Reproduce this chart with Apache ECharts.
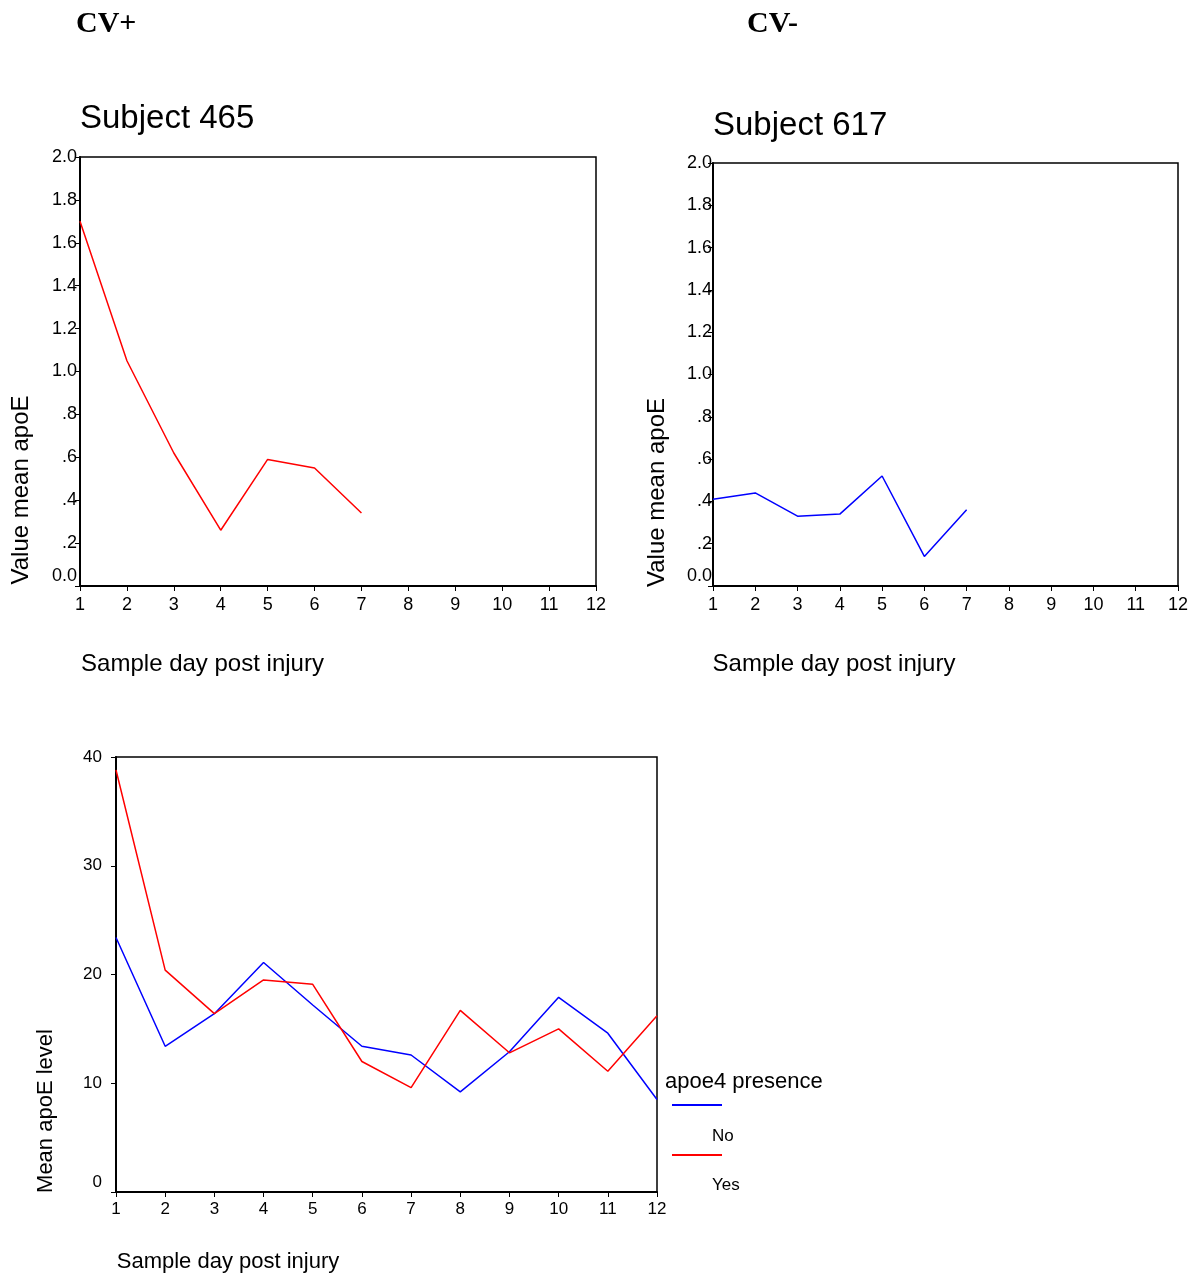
<!DOCTYPE html>
<html>
<head>
<meta charset="utf-8">
<title>apoE by sample day</title>
<script src="https://cdn.jsdelivr.net/npm/echarts@6/dist/echarts.min.js"></script>
<style>
  html, body { margin: 0; padding: 0; background: #fff; }
  #chart { width: 1197px; height: 1277px; }
</style>
</head>
<body>
<div id="chart"></div>
<script>
// sample days 1..12
const days = ['1', '2', '3', '4', '5', '6', '7', '8', '9', '10', '11', '12'];

// Subject 465 (CV+), days 1-7
const subject465 = [1.70, 1.05, 0.62, 0.26, 0.59, 0.55, 0.34];
// Subject 617 (CV-), days 1-7
const subject617 = [0.41, 0.44, 0.33, 0.34, 0.52, 0.14, 0.36];

// mean apoE level by apoe4 presence
const apoe4No = [23.4, 13.4, 16.4, 21.1, 17.2, 13.4, 12.6, 9.2, 12.9, 17.9, 14.6, 8.5];
const apoe4Yes = [38.8, 20.4, 16.4, 19.5, 19.1, 12.0, 9.6, 16.7, 12.8, 15.0, 11.1, 16.2];

const FONT = 'Arial, "Liberation Sans", sans-serif';
const SERIF = '"Liberation Serif", "Times New Roman", serif';
const chart = echarts.init(document.getElementById('chart'));

// SPSS style labels: "1.0", ".8", ..., "0.0" (zero nudged up off the x axis)
function smallFmt(v) {
  if (v === 0) return '{z|0.0}';
  const s = v.toFixed(1);
  return v < 1 ? s.replace(/^0/, '') : s;
}
function bigFmt(v) {
  return v === 0 ? '{z|0}' : String(v);
}

function xAxisFor(gridIndex, opts) {
  return {
    type: 'category',
    gridIndex: gridIndex,
    data: days,
    boundaryGap: false,
    name: 'Sample day post injury',
    nameLocation: 'middle',
    nameGap: opts.nameGap,
    nameTextStyle: { color: '#000', fontFamily: FONT, fontSize: opts.nameSize, padding: [0, opts.namePad, 0, 0] },
    axisLine: { lineStyle: { color: '#000', width: 2 } },
    axisTick: { show: true, length: 5, alignWithLabel: true, lineStyle: { color: '#000' } },
    axisLabel: { color: '#000', fontFamily: FONT, fontSize: opts.labelSize, margin: opts.labelMargin, interval: 0 },
    splitLine: { show: false }
  };
}

function yAxisFor(gridIndex, opts) {
  return {
    type: 'value',
    gridIndex: gridIndex,
    min: 0,
    max: opts.max,
    interval: opts.interval,
    name: opts.name,
    nameLocation: 'middle',
    nameGap: opts.nameGap,
    nameTextStyle: { color: '#000', fontFamily: FONT, fontSize: opts.nameSize, padding: [0, opts.namePad, 0, 0] },
    axisLine: { show: true, lineStyle: { color: '#000', width: 2 } },
    axisTick: { show: true, length: 5, lineStyle: { color: '#000' } },
    axisLabel: {
      color: '#000', fontFamily: FONT, fontSize: opts.labelSize, margin: opts.labelMargin,
      formatter: opts.formatter,
      rich: { z: { color: '#000', fontFamily: FONT, fontSize: opts.labelSize, padding: [0, 0, 20, 0] } }
    },
    splitLine: { show: false }
  };
}

const option = {
  backgroundColor: '#fff',
  animation: false,
  title: [
    { text: 'CV+', left: 76, top: 9, padding: 0, textStyle: { fontFamily: SERIF, fontWeight: 'bold', fontSize: 30, color: '#000' } },
    { text: 'CV-', left: 747, top: 9, padding: 0, textStyle: { fontFamily: SERIF, fontWeight: 'bold', fontSize: 30, color: '#000' } },
    { text: 'Subject 465', left: 80, top: 102, padding: 0, textStyle: { fontFamily: FONT, fontWeight: 'normal', fontSize: 33, color: '#000' } },
    { text: 'Subject 617', left: 713, top: 109, padding: 0, textStyle: { fontFamily: FONT, fontWeight: 'normal', fontSize: 33, color: '#000' } },
    { text: 'apoe4 presence', left: 665, top: 1071, padding: 0, textStyle: { fontFamily: FONT, fontWeight: 'normal', fontSize: 22, color: '#000' } }
  ],
  grid: [
    { left: 80, top: 157, width: 516, height: 429, show: true, borderColor: '#000', borderWidth: 1.5, backgroundColor: 'transparent' },
    { left: 713, top: 163, width: 465, height: 423, show: true, borderColor: '#000', borderWidth: 1.5, backgroundColor: 'transparent' },
    { left: 116, top: 757, width: 541, height: 435, show: true, borderColor: '#000', borderWidth: 1.5, backgroundColor: 'transparent' }
  ],
  xAxis: [
    xAxisFor(0, { nameGap: 66, namePad: 271, nameSize: 24, labelSize: 18, labelMargin: 10 }),
    xAxisFor(1, { nameGap: 66, namePad: 223, nameSize: 24, labelSize: 18, labelMargin: 10 }),
    xAxisFor(2, { nameGap: 59, namePad: 317, nameSize: 22, labelSize: 17, labelMargin: 9 })
  ],
  yAxis: [
    yAxisFor(0, { max: 2, interval: 0.2, name: 'Value mean apoE', nameGap: 47, namePad: 237, nameSize: 24, labelSize: 18, labelMargin: 3, formatter: smallFmt }),
    yAxisFor(1, { max: 2, interval: 0.2, name: 'Value mean apoE', nameGap: 44, namePad: 236, nameSize: 24, labelSize: 18, labelMargin: 1, formatter: smallFmt }),
    yAxisFor(2, { max: 40, interval: 10, name: 'Mean apoE level', nameGap: 59, namePad: 273, nameSize: 22, labelSize: 17, labelMargin: 14, formatter: bigFmt })
  ],
  legend: [
    // line samples
    {
      data: ['No', 'Yes'],
      orient: 'vertical',
      left: 672,
      top: 1104,
      padding: 0,
      itemWidth: 50,
      itemHeight: 2,
      itemGap: 48,
      icon: 'rect',
      formatter: function () { return ''; },
      textStyle: { fontSize: 1, lineHeight: 2 }
    },
    // category names under each sample
    {
      data: ['No', 'Yes'],
      orient: 'vertical',
      left: 707,
      top: 1127,
      padding: 0,
      itemWidth: 0,
      itemHeight: 0,
      itemGap: 31,
      icon: 'rect',
      textStyle: { color: '#000', fontFamily: FONT, fontSize: 17, lineHeight: 18 }
    }
  ],
  series: [
    { name: 'Subject 465', type: 'line', xAxisIndex: 0, yAxisIndex: 0, data: subject465, symbol: 'none', lineStyle: { color: '#ff0000', width: 1.5 }, itemStyle: { color: '#ff0000' } },
    { name: 'Subject 617', type: 'line', xAxisIndex: 1, yAxisIndex: 1, data: subject617, symbol: 'none', lineStyle: { color: '#0000ff', width: 1.5 }, itemStyle: { color: '#0000ff' } },
    { name: 'No', type: 'line', xAxisIndex: 2, yAxisIndex: 2, data: apoe4No, symbol: 'none', lineStyle: { color: '#0000ff', width: 1.5 }, itemStyle: { color: '#0000ff' } },
    { name: 'Yes', type: 'line', xAxisIndex: 2, yAxisIndex: 2, data: apoe4Yes, symbol: 'none', lineStyle: { color: '#ff0000', width: 1.5 }, itemStyle: { color: '#ff0000' } }
  ]
};

chart.setOption(option);
</script>
</body>
</html>
